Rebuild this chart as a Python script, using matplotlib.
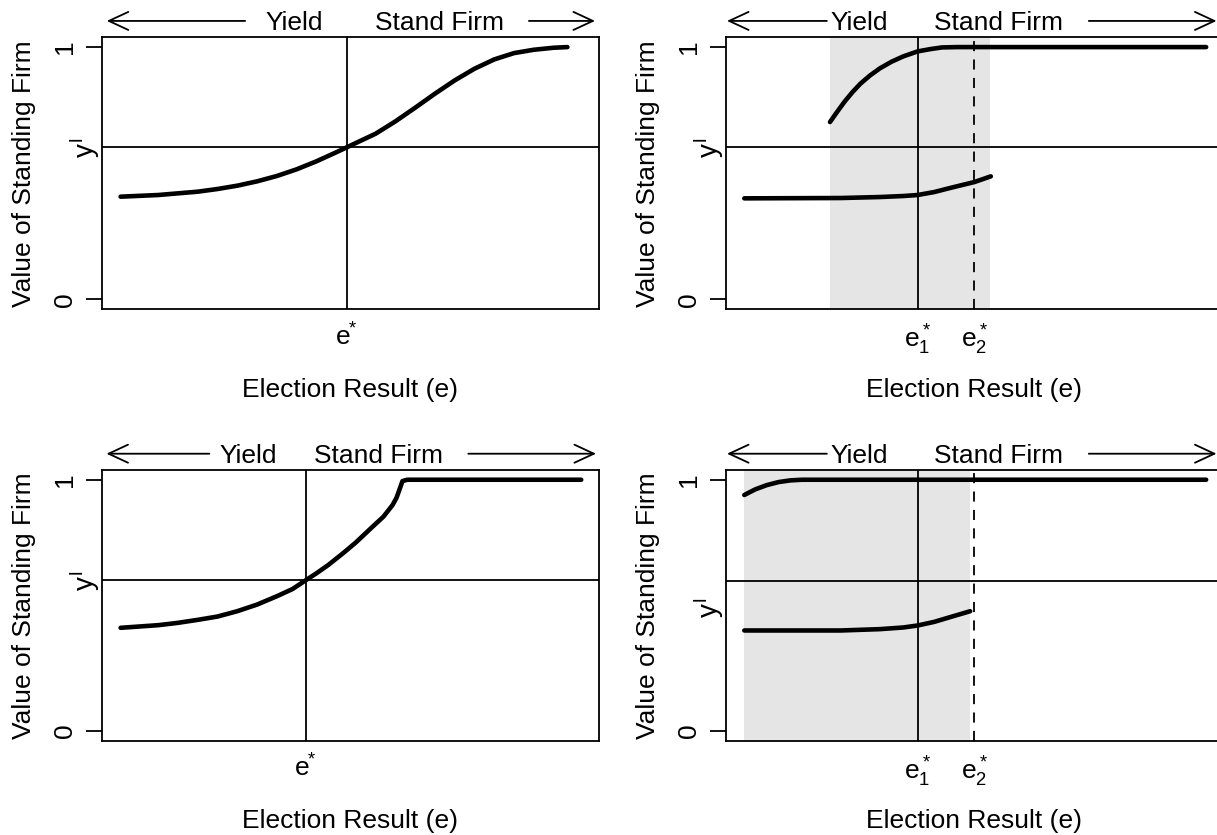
import numpy as np
import matplotlib
matplotlib.use('Agg')
import matplotlib.pyplot as plt

plt.rcParams['font.family'] = ['Liberation Sans', 'DejaVu Sans']
plt.rcParams['mathtext.fontset'] = 'custom'
plt.rcParams['mathtext.rm'] = 'Liberation Sans'
plt.rcParams['mathtext.it'] = 'Liberation Sans'
plt.rcParams['mathtext.bf'] = 'Liberation Sans:bold'

FS = 19
LW_THIN = 1.3
LW_CURVE = 3.3
GRAY = '#E5E5E5'

# panel 1 (top left): one smooth curve
p1_x = [0.0374, 0.1130, 0.1925, 0.2323, 0.2721, 0.3119, 0.3516, 0.3914, 0.4312, 0.4710,
        0.4924, 0.5107, 0.5505, 0.5903, 0.6301, 0.6698, 0.7096, 0.7494, 0.7892, 0.8290,
        0.8687, 0.9085, 0.9364]
p1_y = [0.4069, 0.4135, 0.4267, 0.4373, 0.4505, 0.4676, 0.4888, 0.5152, 0.5469, 0.5826,
        0.6024, 0.6196, 0.6565, 0.7054, 0.7596, 0.8151, 0.8679, 0.9141, 0.9511, 0.9762,
        0.9894, 0.9974, 1.0]

# panel 2 (top right): two branches
p2_up_x = [0.2092, 0.2233, 0.2390, 0.2546, 0.2703, 0.2899, 0.3095, 0.3330, 0.3565, 0.3855,
           0.4113, 0.4348, 0.4662, 0.9661]
p2_up_y = [0.7028, 0.7424, 0.7847, 0.8217, 0.8547, 0.8877, 0.9155, 0.9419, 0.9630, 0.9828,
           0.9921, 0.9987, 1.0, 1.0]
p2_lo_x = [0.0368, 0.2311, 0.3095, 0.3565, 0.3855, 0.4192, 0.4505, 0.4999, 0.5328]
p2_lo_y = [0.4003, 0.4016, 0.4055, 0.4095, 0.4135, 0.4254, 0.4412, 0.4650, 0.4875]

# panel 3 (bottom left): curve with a kink
p3_x = [0.0374, 0.1130, 0.1527, 0.1925, 0.2323, 0.2721, 0.3119, 0.3516, 0.3835, 0.4097,
        0.4312, 0.4551, 0.4869, 0.5107, 0.5426, 0.5664, 0.5847, 0.5927, 0.6046, 0.6142,
        0.9642]
p3_y = [0.4101, 0.4206, 0.4299, 0.4418, 0.4550, 0.4762, 0.5026, 0.5357, 0.5648, 0.5992,
        0.6270, 0.6601, 0.7103, 0.7500, 0.8095, 0.8532, 0.8995, 0.9286, 0.9947, 1.0,
        1.0]

# panel 4 (bottom right): two branches
p4_up_x = [0.0368, 0.0588, 0.0823, 0.1058, 0.1293, 0.1528, 0.9661]
p4_up_y = [0.9392, 0.9616, 0.9788, 0.9907, 0.9974, 1.0, 1.0]
p4_lo_x = [0.0368, 0.2311, 0.3095, 0.3565, 0.3855, 0.4192, 0.4505, 0.4913]
p4_lo_y = [0.3995, 0.3995, 0.4048, 0.4114, 0.4193, 0.4339, 0.4524, 0.4762]

# reference values per panel
y_bar = [0.602, 0.602, 0.599, 0.598]
y_bar_label = [0.602, 0.602, 0.599, 0.49]
e_star = [0.492, 0.3855, 0.410, 0.3855]
e_star2 = [None, 0.4999, None, 0.4999]
shade = [None, (0.209, 0.531), None, (0.0368, 0.491)]

# top arrows: left tip, left end, Yield, Stand Firm, right start, right tip
arrow_pos = [
    (0.0095, 0.288, 0.3875, 0.6795, 0.859, 0.992),
    (0.002, 0.203, 0.268, 0.5473, 0.730, 0.987),
    (0.0089, 0.216, 0.295, 0.557, 0.737, 0.994),
    (0.002, 0.203, 0.268, 0.5473, 0.730, 0.987),
]

fig = plt.figure(figsize=(12.17, 8.35), dpi=100)
W, H = 1217, 835
boxes = [(102, 37, 309.4), (726, 37, 309.4), (102, 469.7, 740.8), (726, 469.7, 740.8)]
axes = []
for left, top, bottom in boxes:
    ax = fig.add_axes([left / W, 1 - bottom / H, 497 / W, (bottom - top) / H])
    axes.append(ax)

curves = [
    [(p1_x, p1_y)],
    [(p2_up_x, p2_up_y), (p2_lo_x, p2_lo_y)],
    [(p3_x, p3_y)],
    [(p4_up_x, p4_up_y), (p4_lo_x, p4_lo_y)],
]


def top_arrows(ax, pos):
    tip_l, end_l, yield_x, firm_x, start_r, tip_r = pos
    tr = ax.get_xaxis_transform()
    y = 1.059
    props = dict(arrowstyle='->,head_length=1.4,head_width=0.65', lw=LW_THIN,
                 shrinkA=0, shrinkB=0, mutation_scale=10, color='black')
    ax.annotate('', xy=(tip_l, y), xytext=(end_l, y), xycoords=tr, textcoords=tr,
                arrowprops=props, annotation_clip=False)
    ax.annotate('', xy=(tip_r, y), xytext=(start_r, y), xycoords=tr, textcoords=tr,
                arrowprops=props, annotation_clip=False)
    ax.text(yield_x, y - 0.009, 'Yield', transform=tr, ha='center', va='center',
            fontsize=FS, clip_on=False)
    ax.text(firm_x, y - 0.009, 'Stand Firm', transform=tr, ha='center', va='center',
            fontsize=FS, clip_on=False)


for i, ax in enumerate(axes):
    if shade[i] is not None:
        ax.axvspan(shade[i][0], shade[i][1], color=GRAY, lw=0, zorder=0)
    ax.axhline(y_bar[i], color='black', lw=LW_THIN, zorder=1)
    ax.axvline(e_star[i], color='black', lw=LW_THIN, zorder=1)
    if e_star2[i] is not None:
        ax.axvline(e_star2[i], color='black', lw=LW_THIN, ls=(0, (5.6, 4.6)), zorder=1)
    for cx, cy in curves[i]:
        ax.plot(cx, cy, color='black', lw=LW_CURVE, solid_capstyle='round', zorder=2)

    ax.set_xlim(0, 1)
    ax.set_ylim(-0.04, 1.04)
    for s in ax.spines.values():
        s.set_linewidth(LW_THIN)

    ax.set_yticks([0, 1])
    ax.set_yticklabels(['0', '1'], fontsize=FS, rotation=90, va='center')
    ax.tick_params(axis='y', direction='out', length=11.5, width=LW_THIN, pad=6.5)

    if e_star2[i] is None:
        ax.set_xticks([e_star[i]])
        ax.set_xticklabels([r'$e^{\!\!*}$'], fontsize=FS)
    else:
        ax.set_xticks([e_star[i], e_star2[i]])
        ax.set_xticklabels([r'$e_1^*$', r'$e_2^*$'], fontsize=FS)
    ax.tick_params(axis='x', length=0, pad=10)

    ax.text(0.0, y_bar_label[i], r'$y^l$', transform=ax.get_yaxis_transform(),
            rotation=90, ha='right', va='center', fontsize=20, clip_on=False)

    ax.text(-0.157, 0.5, 'Value of Standing Firm', transform=ax.transAxes,
            rotation=90, ha='center', va='center', fontsize=FS)
    ax.text(0.5, -0.296, 'Election Result (e)', transform=ax.transAxes,
            ha='center', va='center', fontsize=FS)

    top_arrows(ax, arrow_pos[i])

fig.savefig('out.png', dpi=100)
